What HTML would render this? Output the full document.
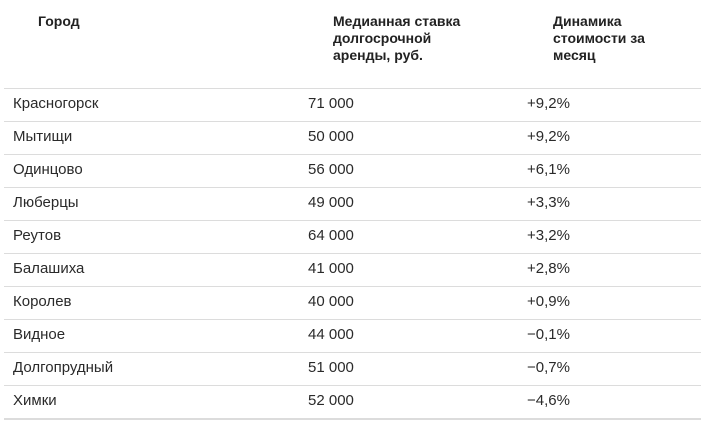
<!DOCTYPE html>
<html><head><meta charset="utf-8"><style>
body{margin:0;width:701px;height:421px;background:#fff;font-family:"Liberation Sans",sans-serif;color:#1e1e1e;position:relative;overflow:hidden}
.h{position:absolute;font-weight:bold;font-size:14px;line-height:17px;color:#222}
.line{position:absolute;left:4px;right:0;height:1px;background:#dcdcdc}
.c{position:absolute;font-size:15px;line-height:18px;color:#2a2a2a}
</style></head><body>
<div class="h" style="left:38px;top:13px">Город</div>
<div class="h" style="left:333px;top:13px">Медианная ставка<br>долгосрочной<br>аренды, руб.</div>
<div class="h" style="left:553px;top:13px">Динамика<br>стоимости за<br>месяц</div>
<div id="rows"></div>
<script>
const cities=["Красногорск","Мытищи","Одинцово","Люберцы","Реутов","Балашиха","Королев","Видное","Долгопрудный","Химки"];
const rents=["71 000","50 000","56 000","49 000","64 000","41 000","40 000","44 000","51 000","52 000"];
const changes=["+9,2%","+9,2%","+6,1%","+3,3%","+3,2%","+2,8%","+0,9%","−0,1%","−0,7%","−4,6%"];
const root=document.body;
for(let i=0;i<cities.length;i++){
 const top=88+i*33;
 const ln=document.createElement('div');ln.className='line';ln.style.top=top+'px';
 
 
 root.appendChild(ln);
 const vals=[cities[i],rents[i],changes[i]],xs=[13,308,527],names=['city-cell','rent-cell','change-cell'];
 for(let j=0;j<3;j++){
  const d=document.createElement('div');d.className='c';d.textContent=vals[j];
  d.style.left=xs[j]+'px';d.style.top=(top+7)+'px';
  
  
  root.appendChild(d);
 }
}
const b=document.createElement('div');b.className='line';b.style.top=(88+cities.length*33)+'px';b.style.height='2px';


root.appendChild(b);
</script>
</body></html>
